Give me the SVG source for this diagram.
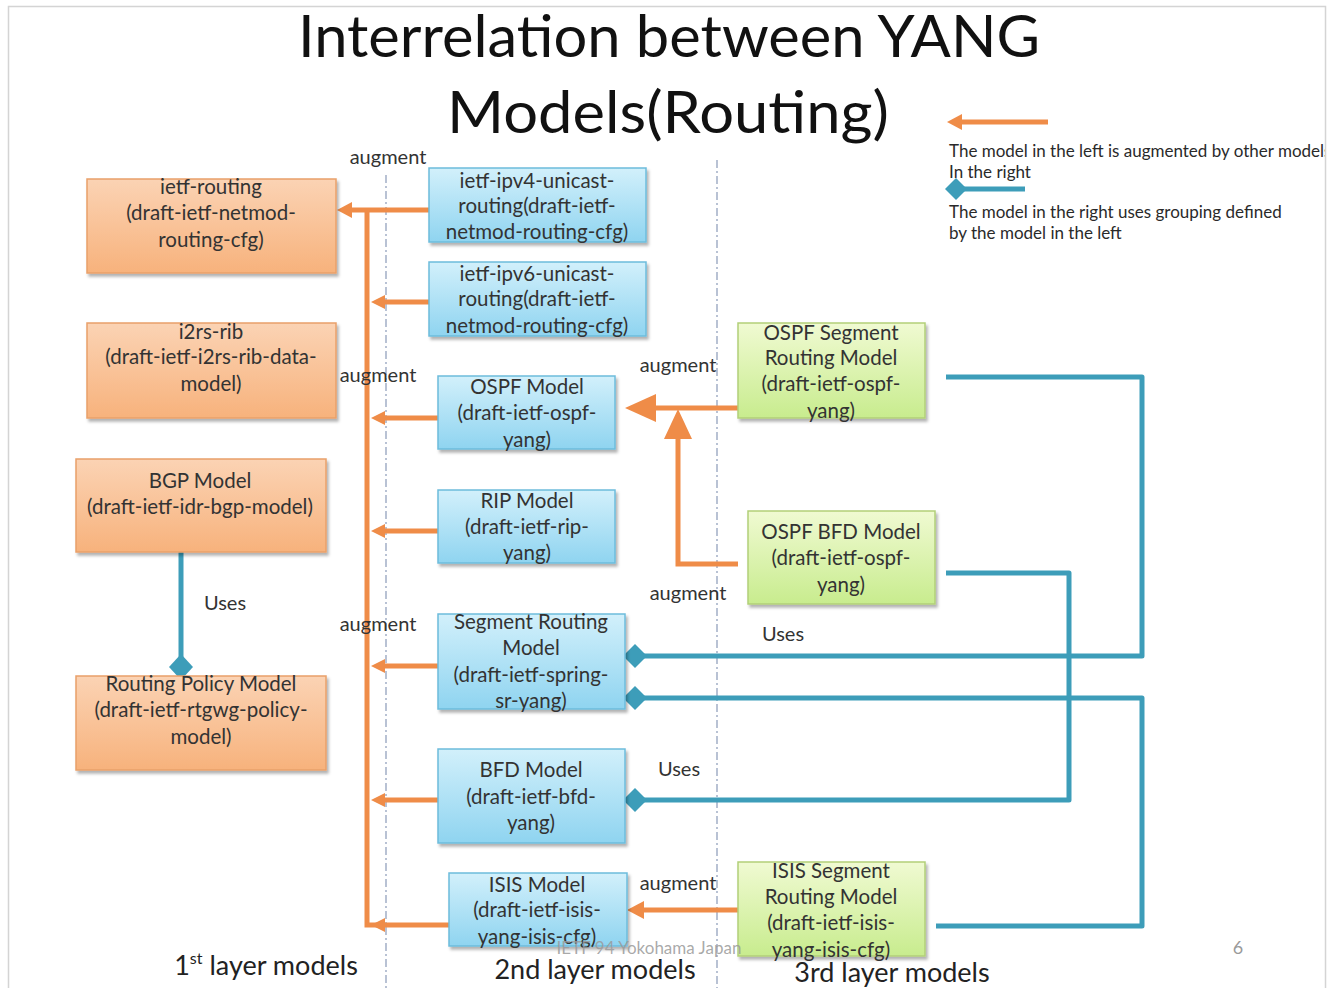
<svg xmlns="http://www.w3.org/2000/svg" width="1330" height="988" viewBox="0 0 1330 988">
  <defs>
    <linearGradient id="gOrange" x1="0" y1="0" x2="0" y2="1">
      <stop offset="0" stop-color="#fbd3b4"/>
      <stop offset="1" stop-color="#f7b27c"/>
    </linearGradient>
    <linearGradient id="gBlue" x1="0" y1="0" x2="0" y2="1">
      <stop offset="0" stop-color="#d2f0fb"/>
      <stop offset="1" stop-color="#8fd4f0"/>
    </linearGradient>
    <linearGradient id="gGreen" x1="0" y1="0" x2="0" y2="1">
      <stop offset="0" stop-color="#f0fad2"/>
      <stop offset="1" stop-color="#c8ec8e"/>
    </linearGradient>
    <filter id="shadow" x="-10%" y="-10%" width="125%" height="130%">
      <feDropShadow dx="2" dy="3" stdDeviation="1.8" flood-color="#000" flood-opacity="0.3"/>
    </filter>
    <clipPath id="slideClip">
      <rect x="8" y="6" width="1317" height="990"/>
    </clipPath>
  </defs>
  <style>
    .t { font-family: Lato, "Open Sans", "Liberation Sans", sans-serif; fill: #333333; }
    .box-text { font-size: 20.5px; text-anchor: middle; }
    .lbl { font-size: 20px; }
    .layer { font-size: 27px; fill: #222222; }
    .legend { font-size: 17px; fill: #2a2a2a; }
    .orange-box { fill: url(#gOrange); stroke: #e9a06a; stroke-width: 1.5; filter: url(#shadow); }
    .blue-box { fill: url(#gBlue); stroke: #6cbcdc; stroke-width: 1.5; filter: url(#shadow); }
    .green-box { fill: url(#gGreen); stroke: #b2cf78; stroke-width: 1.5; filter: url(#shadow); }
    .aug { stroke: #ef8c48; fill: none; stroke-width: 5; }
    .aug-head { fill: #ef8c48; }
    .uses { stroke: #3d9db9; fill: none; stroke-width: 5; stroke-linejoin: round; }
    .uses-head { fill: #3d9db9; }
    .divider { stroke: #8a9ab8; stroke-width: 1.2; stroke-dasharray: 8 3 2 3; fill: none; }
  </style>

  <!-- slide background and frame -->
  <rect x="0" y="0" width="1330" height="988" fill="#ffffff"/>
  <rect x="8.5" y="6.5" width="1317" height="1000" fill="#ffffff" stroke="#d4d4d4" stroke-width="1.5"/>

  <!-- title -->
  <g id="title" class="t">
    <text x="669" y="57" font-size="58" text-anchor="middle" fill="#111" textLength="742" lengthAdjust="spacingAndGlyphs">Interrelation between YANG</text>
    <text x="668" y="133" font-size="58" text-anchor="middle" fill="#111" textLength="442" lengthAdjust="spacingAndGlyphs">Models(Routing)</text>
  </g>

  <!-- layer dividers -->
  <g id="dividers">
    <line class="divider" x1="386" y1="175" x2="386" y2="988"/>
    <line class="divider" x1="717" y1="160" x2="717" y2="988"/>
  </g>

  <!-- connectors -->
  <g id="connectors">
    <!-- augment bus into ietf-routing -->
    <path class="aug" d="M429,210 H350"/>
    <polygon class="aug-head" points="337,210 352,202 352,218"/>
    <path class="aug" d="M367,210 V925 H449"/>
    <path class="aug" d="M429,302 H382"/>
    <polygon class="aug-head" points="371,302 385,295 385,309"/>
    <path class="aug" d="M438,418 H382"/>
    <polygon class="aug-head" points="371,418 385,411 385,425"/>
    <path class="aug" d="M438,531 H382"/>
    <polygon class="aug-head" points="371,531 385,524 385,538"/>
    <path class="aug" d="M438,666 H382"/>
    <polygon class="aug-head" points="371,666 385,659 385,673"/>
    <path class="aug" d="M438,800 H382"/>
    <polygon class="aug-head" points="371,800 385,793 385,807"/>
    <polygon class="aug-head" points="371,925 385,918 385,932"/>

    <!-- OSPF extensions augment OSPF Model -->
    <path class="aug" d="M738,408 H652" stroke-width="6"/>
    <polygon class="aug-head" points="625,408 656,394 656,422"/>
    <path class="aug" d="M738,564 H678 V436" stroke-width="6"/>
    <polygon class="aug-head" points="678,409 664,439 692,439"/>

    <!-- ISIS SR augments ISIS Model -->
    <path class="aug" d="M738,910 H640"/>
    <polygon class="aug-head" points="627,910 644,901 644,919"/>

    <!-- uses: BGP -> Routing Policy -->
    <path class="uses" d="M181,552 V660"/>
    <polygon class="uses-head" points="181,654 193,667 181,680 169,667"/>

    <!-- uses: OSPF SR -> Segment Routing -->
    <path class="uses" d="M946,377 H1142 V656 H640"/>
    <polygon class="uses-head" points="623,656 635,644 647,656 635,668"/>

    <!-- uses: ISIS SR -> Segment Routing -->
    <path class="uses" d="M936,926 H1142 V698 H640"/>
    <polygon class="uses-head" points="623,698 635,686 647,698 635,710"/>

    <!-- uses: OSPF BFD -> BFD Model -->
    <path class="uses" d="M946,573 H1069 V800 H640"/>
    <polygon class="uses-head" points="623,800 635,788 647,800 635,812"/>
  </g>

  <!-- 1st layer models -->
  <g id="ietf-routing">
    <rect class="orange-box" x="87" y="179" width="249" height="94"/>
    <text class="t box-text" x="211"><tspan x="211" y="194">ietf-routing</tspan><tspan x="211" y="220">(draft-ietf-netmod-</tspan><tspan x="211" y="247">routing-cfg)</tspan></text>
  </g>
  <g id="i2rs-rib">
    <rect class="orange-box" x="87" y="323" width="249" height="95"/>
    <text class="t box-text" x="211"><tspan x="211" y="339">i2rs-rib</tspan><tspan x="211" y="364">(draft-ietf-i2rs-rib-data-</tspan><tspan x="211" y="391">model)</tspan></text>
  </g>
  <g id="bgp-model">
    <rect class="orange-box" x="76" y="459" width="250" height="93"/>
    <text class="t box-text" x="200"><tspan x="200" y="488">BGP Model</tspan><tspan x="200" y="514">(draft-ietf-idr-bgp-model)</tspan></text>
  </g>
  <g id="routing-policy-model">
    <rect class="orange-box" x="76" y="676" width="250" height="94"/>
    <text class="t box-text" x="201"><tspan x="201" y="691">Routing Policy Model</tspan><tspan x="201" y="717">(draft-ietf-rtgwg-policy-</tspan><tspan x="201" y="744">model)</tspan></text>
  </g>

  <!-- 2nd layer models -->
  <g id="ipv4-unicast-routing">
    <rect class="blue-box" x="429" y="168" width="217" height="74"/>
    <text class="t box-text" x="537"><tspan x="537" y="188">ietf-ipv4-unicast-</tspan><tspan x="537" y="213">routing(draft-ietf-</tspan><tspan x="537" y="239">netmod-routing-cfg)</tspan></text>
  </g>
  <g id="ipv6-unicast-routing">
    <rect class="blue-box" x="429" y="262" width="217" height="74"/>
    <text class="t box-text" x="537"><tspan x="537" y="281">ietf-ipv6-unicast-</tspan><tspan x="537" y="306">routing(draft-ietf-</tspan><tspan x="537" y="333">netmod-routing-cfg)</tspan></text>
  </g>
  <g id="ospf-model">
    <rect class="blue-box" x="438" y="376" width="177" height="73"/>
    <text class="t box-text" x="527"><tspan x="527" y="394">OSPF Model</tspan><tspan x="527" y="420">(draft-ietf-ospf-</tspan><tspan x="527" y="447">yang)</tspan></text>
  </g>
  <g id="rip-model">
    <rect class="blue-box" x="438" y="490" width="177" height="73"/>
    <text class="t box-text" x="527"><tspan x="527" y="508">RIP Model</tspan><tspan x="527" y="534">(draft-ietf-rip-</tspan><tspan x="527" y="560">yang)</tspan></text>
  </g>
  <g id="segment-routing-model">
    <rect class="blue-box" x="438" y="614" width="187" height="95"/>
    <text class="t box-text" x="531"><tspan x="531" y="629">Segment Routing</tspan><tspan x="531" y="655">Model</tspan><tspan x="531" y="682">(draft-ietf-spring-</tspan><tspan x="531" y="708">sr-yang)</tspan></text>
  </g>
  <g id="bfd-model">
    <rect class="blue-box" x="438" y="749" width="187" height="94"/>
    <text class="t box-text" x="531"><tspan x="531" y="777">BFD Model</tspan><tspan x="531" y="804">(draft-ietf-bfd-</tspan><tspan x="531" y="830">yang)</tspan></text>
  </g>
  <g id="isis-model">
    <rect class="blue-box" x="449" y="873" width="178" height="73"/>
    <text class="t box-text" x="537"><tspan x="537" y="892">ISIS Model</tspan><tspan x="537" y="917">(draft-ietf-isis-</tspan><tspan x="537" y="944">yang-isis-cfg)</tspan></text>
  </g>

  <!-- 3rd layer models -->
  <g id="ospf-sr-model">
    <rect class="green-box" x="738" y="323" width="187" height="95"/>
    <text class="t box-text" x="831"><tspan x="831" y="340">OSPF Segment</tspan><tspan x="831" y="365">Routing Model</tspan><tspan x="831" y="391">(draft-ietf-ospf-</tspan><tspan x="831" y="418">yang)</tspan></text>
  </g>
  <g id="ospf-bfd-model">
    <rect class="green-box" x="748" y="511" width="187" height="93"/>
    <text class="t box-text" x="841"><tspan x="841" y="539">OSPF BFD Model</tspan><tspan x="841" y="565">(draft-ietf-ospf-</tspan><tspan x="841" y="592">yang)</tspan></text>
  </g>
  <g id="isis-sr-model">
    <rect class="green-box" x="738" y="862" width="187" height="94"/>
    <text class="t box-text" x="831"><tspan x="831" y="878">ISIS Segment</tspan><tspan x="831" y="904">Routing Model</tspan><tspan x="831" y="930">(draft-ietf-isis-</tspan><tspan x="831" y="957">yang-isis-cfg)</tspan></text>
  </g>

  <!-- relation labels -->
  <g id="labels" class="t lbl" text-anchor="middle">
    <text x="388" y="164">augment</text>
    <text x="378" y="382">augment</text>
    <text x="678" y="372">augment</text>
    <text x="688" y="600">augment</text>
    <text x="378" y="631">augment</text>
    <text x="678" y="890">augment</text>
    <text x="225" y="610">Uses</text>
    <text x="783" y="641">Uses</text>
    <text x="679" y="776">Uses</text>
  </g>

  <!-- layer captions -->
  <g id="layers" class="t layer" text-anchor="middle">
    <text x="266" y="975">1<tspan font-size="16" dy="-11">st</tspan><tspan dy="11"> layer models</tspan></text>
    <text x="595" y="979">2nd layer models</text>
    <text x="892" y="982">3rd layer models</text>
  </g>

  <!-- footer -->
  <g id="footer" class="t">
    <text x="649" y="954" font-size="17" text-anchor="middle" fill="#9a9a9a" fill-opacity="0.85">IETF 94 Yokohama Japan</text>
    <text x="1238" y="954" font-size="18" text-anchor="middle" fill="#9a9a9a">6</text>
  </g>

  <!-- legend -->
  <g id="legend" clip-path="url(#slideClip)">
    <path class="aug" d="M1048,122 H960"/>
    <polygon class="aug-head" points="947,122 962,114 962,130"/>
    <text class="t legend" x="949" y="157">The model in the left is augmented by other models</text>
    <text class="t legend" x="949" y="178">In the right</text>
    <path class="uses" d="M960,189 H1025" stroke-width="4"/>
    <polygon class="uses-head" points="945,189 956,178 967,189 956,200"/>
    <text class="t legend" x="949" y="218">The model in the right uses grouping defined</text>
    <text class="t legend" x="949" y="239">by the model in the left</text>
  </g>
</svg>
